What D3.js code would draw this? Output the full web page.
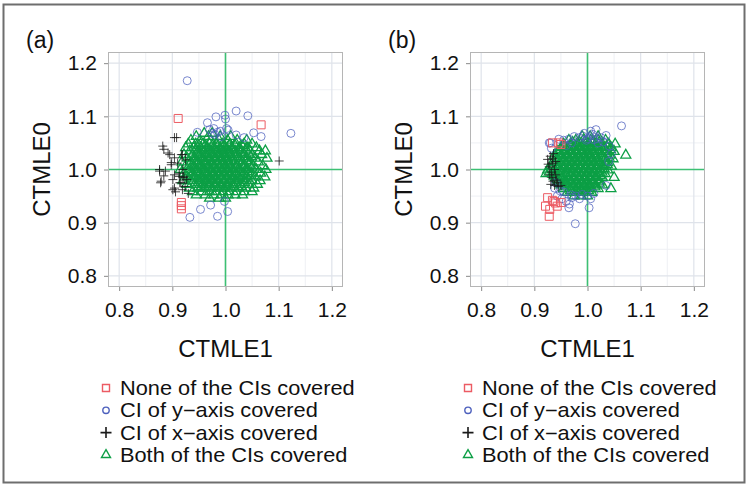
<!DOCTYPE html>
<html><head><meta charset="utf-8">
<script src="https://cdn.jsdelivr.net/npm/d3@7"></script>
<style>
body{margin:0;background:#fff;}
svg{display:block;font-family:"Liberation Sans",Arial,Helvetica,sans-serif;}
</style></head>
<body><svg id="chart" width="750" height="496"></svg>
<script>
// ---------- data ----------
const axisTicks = [0.8, 0.9, 1.0, 1.1, 1.2];
const tickLabels = ["0.8", "0.9", "1.0", "1.1", "1.2"];
const minorTicks = [0.85, 0.95, 1.05, 1.15];
const panelLabels = ["(a)", "(b)"];
const xTitle = "CTMLE1";
const yTitle = "CTMLE0";
const legendLabels = ["None of the CIs covered", "CI of y\u2212axis covered", "CI of x\u2212axis covered", "Both of the CIs covered"];

// panel (a)
const a_none = [[0.911,1.096],[1.067,1.084],[0.917,0.938],[0.917,0.932],[0.917,0.926]];
const a_yonly = [[0.928,1.167],[1.020,1.110],[1.042,1.101],[0.999,1.102],[0.982,1.099],[0.966,1.088],[0.947,1.070],
  [1.002,1.077],[0.980,1.066],[0.970,1.075],[1.053,1.069],[1.067,1.062],[1.123,1.068],[1.020,1.065],[1.035,1.060],
  [1.000,1.095],[0.985,1.070],[0.975,1.068],[0.990,1.072],[1.005,1.074],[0.992,1.062],[0.978,1.077],
  [0.933,0.910],[0.953,0.925],[0.972,0.933],[0.985,0.912],[1.004,0.921],[0.998,0.940]];
const a_xonly = [[0.908,1.060],[0.882,1.044],[0.884,1.038],[0.895,1.028],[0.904,1.022],[0.898,1.009],[0.876,1.000],
  [0.887,0.997],[0.878,0.975],[0.901,0.981],[0.913,0.987],[0.904,0.965],[0.919,0.962],[0.916,0.975],[0.924,0.968],
  [0.913,0.993],[0.922,0.986],[0.910,1.012],[0.925,1.018],[0.919,1.028],[1.101,1.016],[0.884,0.988],[0.927,0.981],
  [0.906,0.958],[0.930,0.955],[0.904,1.060],[0.876,0.997],[0.879,0.978],[0.898,1.013],[0.904,0.990],[0.914,0.975],
  [0.901,0.962],[0.920,0.985],[0.917,1.028],[0.892,1.031],[0.920,1.000]];
const a_both = [
  [0.960,1.068],[0.975,1.068],
  [0.945,1.062],[0.968,1.062],[0.990,1.062],[1.010,1.062],
  [0.935,1.055],[0.952,1.055],[0.972,1.055],[0.988,1.055],[1.004,1.055],[1.022,1.055],[1.040,1.055],
  [0.930,1.048],[0.944,1.048],[0.958,1.048],[0.970,1.048],[0.982,1.048],[0.995,1.048],[1.008,1.048],[1.020,1.048],[1.035,1.048],[1.050,1.048],
  [0.925,1.041],[0.940,1.041],[0.953,1.041],[0.965,1.041],[0.978,1.041],[0.990,1.041],[1.000,1.041],[1.012,1.041],[1.026,1.041],[1.042,1.041],[1.058,1.041],
  [0.933,1.035],[0.948,1.035],[0.960,1.035],[0.972,1.035],[0.984,1.035],[0.996,1.035],[1.006,1.035],[1.018,1.035],[1.030,1.035],[1.046,1.035],[1.064,1.035],[1.075,1.035],
  [0.922,1.028],[0.938,1.028],[0.952,1.028],[0.964,1.028],[0.976,1.028],[0.988,1.028],[0.998,1.028],[1.010,1.028],[1.022,1.028],[1.036,1.028],[1.050,1.028],[1.068,1.028],
  [0.928,1.021],[0.943,1.021],[0.957,1.021],[0.969,1.021],[0.980,1.021],[0.991,1.021],[1.002,1.021],[1.014,1.021],[1.027,1.021],[1.040,1.021],[1.056,1.021],[1.078,1.021],
  [0.918,1.014],[0.935,1.014],[0.949,1.014],[0.962,1.014],[0.974,1.014],[0.985,1.014],[0.995,1.014],[1.006,1.014],[1.018,1.014],[1.032,1.014],[1.047,1.014],[1.062,1.014],
  [0.925,1.007],[0.940,1.007],[0.955,1.007],[0.967,1.007],[0.978,1.007],[0.989,1.007],[0.999,1.007],[1.010,1.007],[1.022,1.007],[1.036,1.007],[1.052,1.007],[1.070,1.007],
  [0.915,1.000],[0.932,1.000],[0.946,1.000],[0.960,1.000],[0.972,1.000],[0.983,1.000],[0.993,1.000],[1.003,1.000],[1.014,1.000],[1.027,1.000],[1.042,1.000],[1.058,1.000],[1.076,1.000],
  [0.922,0.993],[0.938,0.993],[0.952,0.993],[0.965,0.993],[0.977,0.993],[0.988,0.993],[0.998,0.993],[1.008,0.993],[1.020,0.993],[1.034,0.993],[1.049,0.993],[1.066,0.993],
  [0.928,0.986],[0.943,0.986],[0.957,0.986],[0.970,0.986],[0.981,0.986],[0.992,0.986],[1.002,0.986],[1.013,0.986],[1.026,0.986],[1.040,0.986],[1.056,0.986],[1.074,0.986],
  [0.920,0.979],[0.935,0.979],[0.950,0.979],[0.963,0.979],[0.975,0.979],[0.986,0.979],[0.997,0.979],[1.008,0.979],[1.020,0.979],[1.034,0.979],[1.050,0.979],[1.065,0.979],
  [0.927,0.972],[0.942,0.972],[0.957,0.972],[0.969,0.972],[0.980,0.972],[0.991,0.972],[1.003,0.972],[1.015,0.972],[1.028,0.972],[1.043,0.972],[1.060,0.972],
  [0.932,0.965],[0.948,0.965],[0.962,0.965],[0.975,0.965],[0.987,0.965],[0.998,0.965],[1.010,0.965],[1.024,0.965],[1.038,0.965],[1.053,0.965],
  [0.938,0.958],[0.955,0.958],[0.970,0.958],[0.983,0.958],[0.995,0.958],[1.007,0.958],[1.020,0.958],[1.035,0.958],[1.050,0.958],
  [0.945,0.952],[0.962,0.952],[0.978,0.952],[0.992,0.952],[1.005,0.952],[1.018,0.952],[1.032,0.952],
  [0.970,0.946],[0.988,0.946],[1.000,0.946],
  [0.950,1.045],[0.962,1.045],[0.975,1.045],[0.986,1.045],[0.997,1.045],[1.007,1.045],[1.018,1.045],[1.031,1.045],
  [0.944,1.038],[0.955,1.038],[0.967,1.038],[0.979,1.038],[0.991,1.038],[1.001,1.038],[1.012,1.038],[1.024,1.038],[1.038,1.038],
  [0.946,1.031],[0.958,1.031],[0.970,1.031],[0.982,1.031],[0.993,1.031],[1.004,1.031],[1.016,1.031],[1.029,1.031],[1.043,1.031],
  [0.936,1.024],[0.950,1.024],[0.963,1.024],[0.975,1.024],[0.986,1.024],[0.997,1.024],[1.008,1.024],[1.020,1.024],[1.033,1.024],[1.048,1.024],
  [0.942,1.017],[0.956,1.017],[0.968,1.017],[0.980,1.017],[0.990,1.017],[1.001,1.017],[1.012,1.017],[1.025,1.017],[1.039,1.017],
  [0.933,1.010],[0.947,1.010],[0.961,1.010],[0.973,1.010],[0.984,1.010],[0.994,1.010],[1.005,1.010],[1.016,1.010],[1.029,1.010],[1.044,1.010],
  [0.940,1.003],[0.953,1.003],[0.966,1.003],[0.978,1.003],[0.988,1.003],[0.998,1.003],[1.009,1.003],[1.021,1.003],[1.035,1.003],[1.050,1.003],
  [0.930,0.996],[0.945,0.996],[0.959,0.996],[0.971,0.996],[0.982,0.996],[0.993,0.996],[1.003,0.996],[1.014,0.996],[1.027,0.996],[1.041,0.996],
  [0.936,0.989],[0.950,0.989],[0.963,0.989],[0.976,0.989],[0.987,0.989],[0.997,0.989],[1.007,0.989],[1.019,0.989],[1.033,0.989],[1.048,0.989],
  [0.942,0.982],[0.956,0.982],[0.969,0.982],[0.981,0.982],[0.992,0.982],[1.002,0.982],[1.014,0.982],[1.027,0.982],[1.042,0.982],
  [0.949,0.975],[0.963,0.975],[0.975,0.975],[0.986,0.975],[0.997,0.975],[1.009,0.975],[1.021,0.975],[1.036,0.975],
  [0.955,0.968],[0.969,0.968],[0.981,0.968],[0.993,0.968],[1.004,0.968],[1.016,0.968],[1.030,0.968]];

// panel (b)
const b_none = [[0.934,1.050],[0.950,1.047],[0.946,1.050],[0.925,0.947],[0.934,0.942],[0.940,0.937],[0.921,0.931],
  [0.928,0.912],[0.943,0.931],[0.950,0.938],[0.929,0.925],[0.937,0.940]];
const b_yonly = [[1.064,1.082],[1.016,1.075],[1.006,1.072],[0.994,1.068],[0.991,1.063],[0.985,1.060],[0.965,1.057],
  [0.946,1.057],[0.928,1.050],[1.035,1.064],[1.041,1.044],[1.025,1.060],[1.000,1.058],[1.010,1.066],[0.975,1.062],
  [0.955,1.055],[1.020,1.050],[1.030,1.052],[0.998,1.055],[0.970,1.050],[0.960,1.045],[1.012,1.056],[1.004,1.062],[1.018,1.058],
  [0.943,0.950],[0.952,0.945],[0.965,0.928],[0.970,0.947],[0.978,0.950],[1.003,0.928],[1.006,0.945],[0.977,0.898],
  [0.990,0.953],[0.970,0.952],[0.960,0.940],[0.985,0.945],[1.000,0.950],[1.012,0.955],[0.948,0.960],[0.955,0.958],
  [0.938,0.965],[0.966,0.935],[0.930,1.050],[1.045,1.030],[1.040,1.015],[1.035,0.970],[0.940,0.975],[0.932,1.040]];
const b_xonly = [[0.925,1.019],[0.930,1.025],[0.935,1.012],[0.928,1.005],[0.932,0.995],[0.938,1.000],[0.933,0.985],
  [0.940,0.990],[0.931,0.972],[0.938,0.970],[0.945,0.968],[0.935,0.978],[0.942,0.980],[0.940,1.015],[0.936,1.030],
  [0.929,0.990],[0.944,0.975],[0.950,0.970],[0.926,1.010],[0.934,1.020]];
const b_both = [
  [0.990,1.062],[1.005,1.062],[1.020,1.062],
  [0.965,1.055],[0.978,1.055],[0.992,1.055],[1.006,1.055],[1.020,1.055],[1.034,1.055],
  [0.955,1.048],[0.968,1.048],[0.980,1.048],[0.992,1.048],[1.004,1.048],[1.016,1.048],[1.028,1.048],[1.040,1.048],[1.052,1.048],
  [0.950,1.041],[0.962,1.041],[0.974,1.041],[0.985,1.041],[0.996,1.041],[1.007,1.041],[1.018,1.041],[1.030,1.041],[1.044,1.041],
  [0.944,1.034],[0.956,1.034],[0.968,1.034],[0.979,1.034],[0.990,1.034],[1.000,1.034],[1.011,1.034],[1.023,1.034],[1.036,1.034],[1.050,1.034],
  [0.938,1.027],[0.950,1.027],[0.962,1.027],[0.973,1.027],[0.984,1.027],[0.994,1.027],[1.004,1.027],[1.015,1.027],[1.027,1.027],[1.042,1.027],[1.072,1.027],
  [0.942,1.020],[0.955,1.020],[0.966,1.020],[0.977,1.020],[0.987,1.020],[0.997,1.020],[1.008,1.020],[1.020,1.020],[1.033,1.020],[1.048,1.020],
  [0.935,1.013],[0.948,1.013],[0.960,1.013],[0.971,1.013],[0.981,1.013],[0.991,1.013],[1.001,1.013],[1.012,1.013],[1.024,1.013],[1.038,1.013],
  [0.930,1.006],[0.943,1.006],[0.955,1.006],[0.966,1.006],[0.976,1.006],[0.986,1.006],[0.996,1.006],[1.006,1.006],[1.017,1.006],[1.030,1.006],[1.045,1.006],
  [0.925,0.999],[0.938,0.999],[0.950,0.999],[0.961,0.999],[0.972,0.999],[0.982,0.999],[0.992,0.999],[1.002,0.999],[1.012,0.999],[1.024,0.999],[1.038,0.999],
  [0.922,0.992],[0.934,0.992],[0.946,0.992],[0.958,0.992],[0.968,0.992],[0.978,0.992],[0.988,0.992],[0.998,0.992],[1.008,0.992],[1.020,0.992],[1.033,0.992],
  [0.940,0.985],[0.952,0.985],[0.963,0.985],[0.974,0.985],[0.984,0.985],[0.994,0.985],[1.004,0.985],[1.015,0.985],[1.028,0.985],[1.050,0.985],
  [0.945,0.978],[0.957,0.978],[0.968,0.978],[0.979,0.978],[0.989,0.978],[0.999,0.978],[1.010,0.978],[1.022,0.978],
  [0.950,0.971],[0.962,0.971],[0.973,0.971],[0.983,0.971],[0.993,0.971],[1.003,0.971],[1.015,0.971],[1.028,0.971],
  [0.955,0.964],[0.967,0.964],[0.978,0.964],[0.988,0.964],[0.998,0.964],[1.008,0.964],[1.020,0.964],[1.044,0.964],
  [0.962,0.957],[0.974,0.957],[0.985,0.957],[0.996,0.957],[1.008,0.957],
  [0.975,0.950],[0.988,0.950],[1.000,0.950],
  [0.972,1.051],[0.985,1.051],[0.998,1.051],[1.010,1.051],[1.022,1.051],
  [0.956,1.044],[0.968,1.044],[0.980,1.044],[0.991,1.044],[1.002,1.044],[1.013,1.044],[1.024,1.044],[1.036,1.044],
  [0.950,1.037],[0.962,1.037],[0.974,1.037],[0.985,1.037],[0.995,1.037],[1.006,1.037],[1.017,1.037],[1.029,1.037],[1.043,1.037],
  [0.944,1.030],[0.956,1.030],[0.967,1.030],[0.978,1.030],[0.989,1.030],[0.999,1.030],[1.010,1.030],[1.021,1.030],[1.034,1.030],
  [0.948,1.023],[0.960,1.023],[0.971,1.023],[0.982,1.023],[0.992,1.023],[1.002,1.023],[1.013,1.023],[1.026,1.023],[1.040,1.023],
  [0.941,1.016],[0.954,1.016],[0.965,1.016],[0.976,1.016],[0.986,1.016],[0.996,1.016],[1.006,1.016],[1.018,1.016],[1.031,1.016],
  [0.937,1.009],[0.949,1.009],[0.960,1.009],[0.971,1.009],[0.981,1.009],[0.991,1.009],[1.001,1.009],[1.011,1.009],[1.023,1.009],[1.037,1.009],
  [0.932,1.002],[0.944,1.002],[0.955,1.002],[0.966,1.002],[0.977,1.002],[0.987,1.002],[0.997,1.002],[1.007,1.002],[1.018,1.002],[1.031,1.002],
  [0.928,0.995],[0.940,0.995],[0.952,0.995],[0.963,0.995],[0.973,0.995],[0.983,0.995],[0.993,0.995],[1.003,0.995],[1.014,0.995],[1.027,0.995],
  [0.937,0.988],[0.949,0.988],[0.960,0.988],[0.970,0.988],[0.980,0.988],[0.990,0.988],[1.000,0.988],[1.011,0.988],[1.024,0.988],
  [0.943,0.981],[0.955,0.981],[0.965,0.981],[0.975,0.981],[0.985,0.981],[0.995,0.981],[1.005,0.981],[1.016,0.981],
  [0.948,0.974],[0.959,0.974],[0.969,0.974],[0.979,0.974],[0.989,0.974],[0.999,0.974],[1.010,0.974],[1.022,0.974],
  [0.960,0.967],[0.972,0.967],[0.983,0.967],[0.993,0.967],[1.003,0.967],[1.014,0.967],
  [0.968,0.960],[0.980,0.960],[0.991,0.960],[1.002,0.960]];

const panels = [
  {label: panelLabels[0], none: a_none, yonly: a_yonly, xonly: a_xonly, both: a_both},
  {label: panelLabels[1], none: b_none, yonly: b_yonly, xonly: b_xonly, both: b_both}
];

// ---------- styles / layout ----------
const COL = {none: "#ec5b63", yonly: "#4d60bd", xonly: "#1a1a1a", both: "#0c9f45", ref: "#3cc073"};
const plotW = 235, plotH = 235, plotTop = 52;
const panelLeft = [108, 470];
const domain = [0.779, 1.221];

const svg = d3.select("#chart");
svg.append("rect").attr("x", 3.5).attr("y", 4.5).attr("width", 741).attr("height", 478)
  .attr("fill", "#fff").attr("stroke", "#6e6e6e").attr("stroke-width", 2);

function triPath(s) {
  const h = s * Math.sqrt(3) / 2;
  return `M0,${-h * 2 / 3}L${s / 2},${h / 3}L${-s / 2},${h / 3}Z`;
}
function plusPath(s) { const r = s / 2; return `M${-r},0H${r}M0,${-r}V${r}`; }
function sqPath(s) { const r = s / 2; return `M${-r},${-r}H${r}V${r}H${-r}Z`; }
function circPath(r) { return `M${r},0A${r},${r} 0 1,1 ${-r},0A${r},${r} 0 1,1 ${r},0Z`; }

panels.forEach((p, i) => {
  const left = panelLeft[i];
  const x = d3.scaleLinear().domain(domain).range([left, left + plotW]);
  const y = d3.scaleLinear().domain(domain).range([plotTop + plotH, plotTop]);
  const g = svg.append("g");

  g.append("rect").attr("x", left).attr("y", plotTop).attr("width", plotW).attr("height", plotH).attr("fill", "#fff");
  minorTicks.forEach(t => {
    g.append("line").attr("x1", x(t)).attr("x2", x(t)).attr("y1", plotTop).attr("y2", plotTop + plotH).attr("stroke", "#eef0f4").attr("stroke-width", 1);
    g.append("line").attr("y1", y(t)).attr("y2", y(t)).attr("x1", left).attr("x2", left + plotW).attr("stroke", "#eef0f4").attr("stroke-width", 1);
  });
  axisTicks.forEach(t => {
    g.append("line").attr("x1", x(t)).attr("x2", x(t)).attr("y1", plotTop).attr("y2", plotTop + plotH).attr("stroke", "#dfe3ea").attr("stroke-width", 1.2);
    g.append("line").attr("y1", y(t)).attr("y2", y(t)).attr("x1", left).attr("x2", left + plotW).attr("stroke", "#dfe3ea").attr("stroke-width", 1.2);
  });

  g.append("line").attr("x1", x(1)).attr("x2", x(1)).attr("y1", plotTop).attr("y2", plotTop + plotH).attr("stroke", COL.ref).attr("stroke-width", 1.6);
  g.append("line").attr("y1", y(1)).attr("y2", y(1)).attr("x1", left).attr("x2", left + plotW).attr("stroke", COL.ref).attr("stroke-width", 1.6);

  const pts = g.append("g").attr("fill", "none");
  pts.selectAll(".both").data(p.both).join("path").attr("d", triPath(10))
    .attr("transform", d => `translate(${x(d[0])},${y(d[1])})`).attr("stroke", COL.both).attr("stroke-width", 1.3);
  pts.selectAll(".yonly").data(p.yonly).join("path").attr("d", circPath(4))
    .attr("transform", d => `translate(${x(d[0])},${y(d[1])})`).attr("stroke", COL.yonly).attr("stroke-opacity", 0.75).attr("stroke-width", 1);
  pts.selectAll(".xonly").data(p.xonly).join("path").attr("d", plusPath(9))
    .attr("transform", d => `translate(${x(d[0])},${y(d[1])})`).attr("stroke", COL.xonly).attr("stroke-opacity", 0.8).attr("stroke-width", 1);
  pts.selectAll(".none").data(p.none).join("path").attr("d", sqPath(8))
    .attr("transform", d => `translate(${x(d[0])},${y(d[1])})`).attr("stroke", COL.none).attr("stroke-width", 1);

  g.append("rect").attr("x", left + 0.5).attr("y", plotTop + 0.5).attr("width", plotW - 1).attr("height", plotH - 1)
    .attr("fill", "none").attr("stroke", "#b5b5b5").attr("stroke-width", 1);

  const fmt = d => tickLabels[axisTicks.indexOf(d)];
  const xa = g.append("g").attr("transform", `translate(0,${plotTop + plotH})`)
    .call(d3.axisBottom(x).tickValues(axisTicks).tickFormat(fmt).tickSize(4).tickPadding(11));
  const ya = g.append("g").attr("transform", `translate(${left},0)`)
    .call(d3.axisLeft(y).tickValues(axisTicks).tickFormat(fmt).tickSize(4).tickPadding(7));
  [xa, ya].forEach(a => {
    a.select(".domain").remove();
    a.selectAll(".tick line").attr("stroke", "#8a8a8a");
    a.selectAll("text").attr("font-size", 21).attr("fill", "#111").attr("font-family", "Liberation Sans, Arial, sans-serif");
  });

  g.append("text").attr("x", left + plotW / 2).attr("y", 357).attr("text-anchor", "middle")
    .attr("font-size", 24).attr("fill", "#111").text(xTitle);
  g.append("text").attr("transform", `translate(${left - 58},${plotTop + plotH / 2}) rotate(-90)`).attr("text-anchor", "middle")
    .attr("font-size", 24).attr("fill", "#111").text(yTitle);
  g.append("text").attr("x", left - 82).attr("y", 48).attr("font-size", 23).attr("fill", "#111").text(p.label);

  const lg = g.append("g");
  const keys = ["none", "yonly", "xonly", "both"];
  const shapes = [sqPath(7), circPath(3.2), plusPath(11), triPath(9)];
  keys.forEach((k, j) => {
    const cy = 388 + j * 22.3;
    lg.append("path").attr("d", shapes[j]).attr("transform", `translate(${left - 2},${cy})`)
      .attr("fill", "none").attr("stroke", COL[k]).attr("stroke-width", k === "xonly" ? 1.6 : 1.4);
    lg.append("text").attr("transform", `translate(${left + 12},${cy + 7}) scale(1.1,1)`)
      .attr("font-size", 19.8).attr("fill", "#111").text(legendLabels[j]);
  });
});
</script>
</body></html>
